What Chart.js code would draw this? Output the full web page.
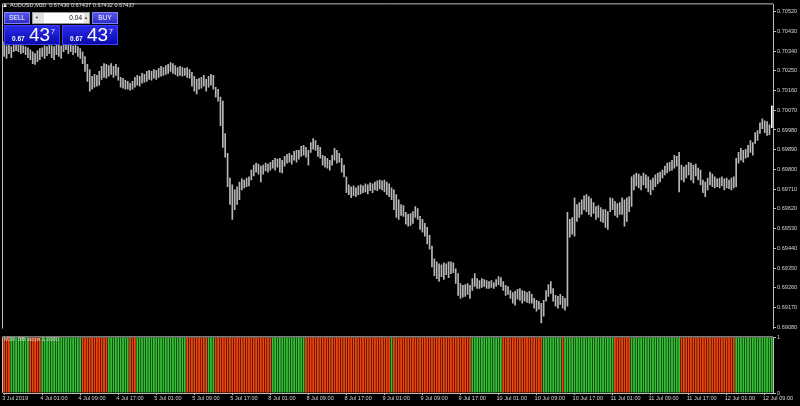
<!DOCTYPE html>
<html>
<head>
<meta charset="utf-8">
<script src="https://cdn.jsdelivr.net/npm/chart.js@4.4.1/dist/chart.umd.min.js"></script>
<style>
html,body{margin:0;padding:0;background:#000;}
#wrap{position:relative;width:800px;height:406px;overflow:hidden;background:#000;font-family:"Liberation Sans",Arial,sans-serif;}
canvas{position:absolute;left:0;display:block;}
#priceCanvas{top:0;}
#indCanvas{top:333px;}
.hdr{position:absolute;left:3px;top:1px;color:#e0e0e0;font-size:5.6px;line-height:8px;white-space:nowrap;}
.tri{display:inline-block;width:0;height:0;border-left:2.5px solid transparent;border-right:2.5px solid transparent;border-bottom:4px solid #e0e0e0;margin-right:3px;}
.btn{position:absolute;top:12px;height:12px;width:26px;box-sizing:border-box;background:linear-gradient(#5656ec,#2c2cc8);border:1px solid #8080f6;color:#fff;font-size:6.5px;line-height:10px;text-align:center;}
.vol{position:absolute;left:32px;top:12px;width:58px;height:12px;box-sizing:border-box;background:#e2e2e2;border:1px solid #9a9a9a;}
.vol .field{position:absolute;left:11px;top:0;width:40px;height:10px;background:#fff;color:#000;font-size:6.5px;line-height:10px;text-align:right;padding-right:2px;box-sizing:border-box;}
.vol .dn,.vol .up{position:absolute;top:0;font-size:4px;line-height:10px;color:#333;}
.vol .dn{left:2px;}
.vol .up{right:1px;}
.px{position:absolute;top:25px;width:56px;height:20px;box-sizing:border-box;background:linear-gradient(#2b2be8,#0a0aae);border:1px solid #4040ff;color:#fff;}
.px .s{position:absolute;left:7px;top:8.5px;font-size:6.5px;font-weight:bold;line-height:8px;}
.px .b{position:absolute;left:24px;top:-1px;font-size:19px;line-height:20px;}
.px .e{position:absolute;left:46px;top:1.5px;font-size:7px;line-height:8px;}
.indlbl{position:absolute;left:4px;top:336px;color:#d8d8d8;font-size:5.6px;line-height:7px;white-space:nowrap;}
</style>
</head>
<body>
<div id="wrap">
<canvas id="priceCanvas" width="800" height="333"></canvas>
<canvas id="indCanvas" width="800" height="73"></canvas>
<div class="hdr"><span class="tri"></span>AUDUSD,M30&nbsp; 0.67436 0.67437 0.67432 0.67437</div>
<div class="btn" style="left:4px;">SELL</div>
<div class="vol"><span class="dn">&#9660;</span><div class="field">0.04</div><span class="up">&#9650;</span></div>
<div class="btn" style="left:92px;">BUY</div>
<div class="px" style="left:4px;"><span class="s">0.67</span><span class="b">43</span><span class="e">7</span></div>
<div class="px" style="left:62px;"><span class="s">0.67</span><span class="b">43</span><span class="e">7</span></div>
<div class="indlbl">M30&nbsp; BB stops 1.0000</div>
</div>
<script>
// ---- data (AUDUSD M30, 3 Jul 17:00 -> 12 Jul 2019) ----
const highs = [
0.70382,0.70364,0.70373,0.70360,0.70373,0.70382,0.70378,0.70369,0.70364,0.70360,
0.70355,0.70346,0.70337,0.70328,0.70342,0.70351,0.70355,0.70364,0.70360,0.70369,
0.70364,0.70360,0.70373,0.70369,0.70364,0.70373,0.70378,0.70369,0.70373,0.70364,
0.70369,0.70360,0.70351,0.70337,0.70315,0.70279,0.70256,0.70225,0.70234,0.70229,
0.70247,0.70270,0.70283,0.70279,0.70274,0.70283,0.70270,0.70279,0.70265,0.70220,
0.70216,0.70207,0.70202,0.70193,0.70202,0.70220,0.70229,0.70225,0.70238,0.70234,
0.70247,0.70252,0.70247,0.70256,0.70252,0.70261,0.70270,0.70265,0.70274,0.70279,
0.70288,0.70283,0.70274,0.70265,0.70270,0.70265,0.70261,0.70265,0.70256,0.70243,
0.70225,0.70211,0.70216,0.70220,0.70229,0.70211,0.70225,0.70234,0.70229,0.70175,
0.70166,0.70130,0.70112,0.69964,0.69874,0.69761,0.69730,0.69707,0.69721,0.69743,
0.69757,0.69752,0.69761,0.69766,0.69797,0.69820,0.69829,0.69824,0.69815,0.69820,
0.69829,0.69824,0.69833,0.69842,0.69851,0.69847,0.69851,0.69842,0.69860,0.69869,
0.69874,0.69865,0.69883,0.69887,0.69887,0.69905,0.69910,0.69901,0.69887,0.69923,
0.69941,0.69932,0.69910,0.69901,0.69865,0.69860,0.69851,0.69842,0.69865,0.69896,
0.69887,0.69874,0.69851,0.69820,0.69766,0.69730,0.69721,0.69725,0.69716,0.69725,
0.69730,0.69725,0.69734,0.69730,0.69739,0.69734,0.69743,0.69748,0.69752,0.69748,
0.69752,0.69743,0.69734,0.69716,0.69707,0.69685,0.69662,0.69640,0.69635,0.69604,
0.69595,0.69599,0.69608,0.69631,0.69622,0.69586,0.69572,0.69554,0.69536,0.69500,
0.69451,0.69392,0.69379,0.69370,0.69365,0.69374,0.69370,0.69379,0.69379,0.69374,
0.69347,0.69325,0.69280,0.69271,0.69275,0.69280,0.69271,0.69302,0.69325,0.69302,
0.69293,0.69302,0.69298,0.69293,0.69289,0.69293,0.69284,0.69298,0.69311,0.69307,
0.69289,0.69271,0.69266,0.69248,0.69239,0.69244,0.69253,0.69257,0.69248,0.69244,
0.69239,0.69244,0.69230,0.69212,0.69203,0.69199,0.69190,0.69203,0.69248,0.69275,
0.69289,0.69257,0.69226,0.69221,0.69230,0.69221,0.69212,0.69604,0.69572,0.69581,
0.69671,0.69640,0.69649,0.69662,0.69680,0.69685,0.69676,0.69667,0.69649,0.69631,
0.69635,0.69626,0.69617,0.69617,0.69608,0.69671,0.69667,0.69653,0.69644,0.69649,
0.69671,0.69662,0.69671,0.69676,0.69766,0.69775,0.69784,0.69779,0.69770,0.69784,
0.69775,0.69766,0.69752,0.69761,0.69775,0.69784,0.69788,0.69797,0.69815,0.69829,
0.69833,0.69842,0.69865,0.69860,0.69878,0.69820,0.69811,0.69820,0.69833,0.69829,
0.69820,0.69824,0.69806,0.69797,0.69752,0.69743,0.69761,0.69788,0.69779,0.69766,
0.69757,0.69761,0.69766,0.69757,0.69761,0.69752,0.69761,0.69766,0.69851,0.69878,
0.69896,0.69887,0.69892,0.69910,0.69932,0.69923,0.69968,0.69977,0.70013,0.70031,
0.70022,0.70018,0.70004,0.70090
];
const lows = [
0.70315,0.70306,0.70328,0.70310,0.70337,0.70342,0.70337,0.70328,0.70333,0.70324,
0.70310,0.70301,0.70283,0.70279,0.70292,0.70301,0.70315,0.70306,0.70319,0.70328,
0.70310,0.70301,0.70324,0.70315,0.70306,0.70337,0.70346,0.70328,0.70337,0.70324,
0.70333,0.70315,0.70306,0.70283,0.70247,0.70202,0.70157,0.70166,0.70175,0.70180,
0.70184,0.70211,0.70220,0.70216,0.70225,0.70234,0.70220,0.70229,0.70207,0.70175,
0.70171,0.70166,0.70166,0.70162,0.70166,0.70175,0.70184,0.70180,0.70193,0.70198,
0.70202,0.70211,0.70207,0.70216,0.70211,0.70220,0.70225,0.70229,0.70234,0.70238,
0.70247,0.70238,0.70234,0.70225,0.70229,0.70225,0.70229,0.70220,0.70216,0.70180,
0.70157,0.70144,0.70166,0.70171,0.70180,0.70157,0.70175,0.70184,0.70166,0.70130,
0.70112,0.70000,0.69901,0.69856,0.69721,0.69640,0.69572,0.69617,0.69640,0.69662,
0.69707,0.69716,0.69721,0.69725,0.69752,0.69770,0.69788,0.69779,0.69743,0.69779,
0.69793,0.69788,0.69797,0.69806,0.69797,0.69811,0.69788,0.69784,0.69815,0.69829,
0.69833,0.69824,0.69842,0.69833,0.69847,0.69860,0.69865,0.69856,0.69820,0.69878,
0.69892,0.69887,0.69860,0.69851,0.69820,0.69811,0.69806,0.69797,0.69820,0.69842,
0.69829,0.69833,0.69788,0.69766,0.69694,0.69685,0.69671,0.69680,0.69676,0.69685,
0.69689,0.69694,0.69698,0.69689,0.69703,0.69694,0.69707,0.69703,0.69712,0.69707,
0.69698,0.69685,0.69676,0.69662,0.69617,0.69581,0.69572,0.69590,0.69586,0.69550,
0.69541,0.69545,0.69554,0.69581,0.69572,0.69527,0.69514,0.69496,0.69460,0.69437,
0.69356,0.69316,0.69302,0.69289,0.69311,0.69298,0.69320,0.69307,0.69325,0.69329,
0.69280,0.69226,0.69212,0.69217,0.69221,0.69230,0.69212,0.69248,0.69266,0.69257,
0.69257,0.69262,0.69266,0.69257,0.69257,0.69262,0.69257,0.69266,0.69275,0.69266,
0.69248,0.69226,0.69230,0.69212,0.69190,0.69181,0.69208,0.69203,0.69190,0.69199,
0.69194,0.69190,0.69190,0.69167,0.69154,0.69163,0.69100,0.69131,0.69199,0.69221,
0.69235,0.69199,0.69176,0.69167,0.69185,0.69167,0.69158,0.69176,0.69491,0.69505,
0.69496,0.69563,0.69581,0.69595,0.69617,0.69608,0.69595,0.69586,0.69599,0.69572,
0.69581,0.69563,0.69559,0.69536,0.69527,0.69608,0.69617,0.69590,0.69581,0.69595,
0.69595,0.69541,0.69563,0.69608,0.69631,0.69707,0.69725,0.69716,0.69707,0.69730,
0.69716,0.69698,0.69685,0.69707,0.69721,0.69734,0.69743,0.69761,0.69775,0.69784,
0.69793,0.69797,0.69806,0.69815,0.69698,0.69752,0.69743,0.69761,0.69775,0.69752,
0.69739,0.69770,0.69752,0.69730,0.69694,0.69676,0.69707,0.69730,0.69721,0.69716,
0.69721,0.69716,0.69725,0.69707,0.69716,0.69712,0.69707,0.69716,0.69721,0.69829,
0.69842,0.69833,0.69851,0.69856,0.69878,0.69865,0.69919,0.69932,0.69964,0.69986,
0.69968,0.69955,0.69959,0.69991
];
// BB stops histogram state per bar: 1 = up (green), 0 = down (red)
const trendSegments = [
"000","11111 111","00000","11111 11111 11111 11","00000 00000 0","11111 1111","000",
"11111 11111 11111 11111 1","00000 0000","111","00000 00000 00000 00000 0000",
"11111 11111 1111","00000 00000 00000 00000 00000 00000 00000 0","1",
"00000 00000 00000 00000 00000 00000 000","11111 11111 111","00000 00000 00000 00",
"11111 111","0","11111 11111 11111 11111 1","00000 00","11111 11111 11111 11111 1",
"00000 00000 00000 00000 000","11111 11111 11111 1"
];
const tickLabels = ["3 Jul 2019","4 Jul 01:00","4 Jul 09:00","4 Jul 17:00","5 Jul 01:00","5 Jul 09:00",
"5 Jul 17:00","8 Jul 01:00","8 Jul 09:00","8 Jul 17:00","9 Jul 01:00","9 Jul 09:00","9 Jul 17:00",
"10 Jul 01:00","10 Jul 09:00","10 Jul 17:00","11 Jul 01:00","11 Jul 09:00","11 Jul 17:00",
"12 Jul 01:00","12 Jul 09:00"];
const priceTicks = [0.70520,0.70430,0.70340,0.70250,0.70160,0.70070,0.69980,0.69890,0.69800,
0.69710,0.69620,0.69530,0.69440,0.69350,0.69260,0.69170,0.69080];
const indicatorTicks = [1, 0];

// ---- build ----
const categories = highs.map((_, i) => i);
const rangeBars = highs.map((h, i) => [lows[i], h]);
const trend = trendSegments.join('').replace(/\s/g, '').split('').map(Number);
const upBars = categories.map(i => trend[i] === 1 ? 1 : null);
const downBars = categories.map(i => trend[i] === 1 ? null : 1);

const FG = '#d4d4d4', FRAME = '#bdbdbd';
const font = {family: '"Liberation Sans", Arial, sans-serif', size: 5.6};

const framePlugin = {
  id: 'frame',
  afterDraw(chart) {
    const {ctx, chartArea: a} = chart;
    ctx.save();
    ctx.strokeStyle = FRAME; ctx.lineWidth = 1;
    ctx.beginPath();
    ctx.moveTo(a.left - 0.5, a.top - 0.5); ctx.lineTo(a.right, a.top - 0.5);
    ctx.moveTo(a.left - 0.5, a.top - 0.5); ctx.lineTo(a.left - 0.5, a.bottom);
    ctx.stroke();
    ctx.restore();
  }
};

new Chart(document.getElementById('priceCanvas'), {
  type: 'bar',
  data: {labels: categories, datasets: [{
    data: rangeBars,
    backgroundColor: c => c.dataIndex === highs.length - 1 ? '#ffffff' : '#b8b8b8',
    barThickness: 1, borderWidth: 0
  }]},
  options: {
    responsive: false, animation: false, events: [],
    layout: {autoPadding: false, padding: {left: 3, top: 2, right: 0, bottom: 1}},
    plugins: {legend: {display: false}, tooltip: {enabled: false}},
    scales: {
      x: {display: false, offset: true},
      y: {
        position: 'right', min: 0.69074, max: 0.70553,
        afterFit(s) { s.width = 27; },
        afterBuildTicks(s) { s.ticks = priceTicks.map(v => ({value: v})); },
        grid: {drawOnChartArea: false, drawTicks: true, tickLength: 3, color: FRAME},
        border: {display: true, color: FRAME},
        ticks: {color: FG, font, padding: 1, autoSkip: false, callback: v => Number(v).toFixed(5)}
      }
    }
  },
  plugins: [framePlugin]
});

new Chart(document.getElementById('indCanvas'), {
  type: 'bar',
  data: {labels: categories, datasets: [
    {data: upBars, backgroundColor: '#34c234', grouped: false, categoryPercentage: 1, barPercentage: 0.76, borderWidth: 0},
    {data: downBars, backgroundColor: '#f2450c', grouped: false, categoryPercentage: 1, barPercentage: 0.76, borderWidth: 0}
  ]},
  options: {
    responsive: false, animation: false, events: [],
    layout: {autoPadding: false, padding: {left: 3, top: 1, right: 0, bottom: 0}},
    plugins: {legend: {display: false}, tooltip: {enabled: false}},
    scales: {
      x: {
        offset: true,
        afterFit(s) { s.height = 13; },
        grid: {offset: false, drawOnChartArea: false, drawTicks: true, tickLength: 2,
               color: c => (c.index % 16 === 0 ? FRAME : 'rgba(0,0,0,0)')},
        border: {display: true, color: FRAME},
        ticks: {autoSkip: false, maxRotation: 0, minRotation: 0, align: 'start', padding: 0, labelOffset: -2,
                color: FG, font, callback: (v, i) => (i % 16 === 0 ? tickLabels[i / 16] : '')}
      },
      y: {
        position: 'right', min: 0, max: 1,
        afterFit(s) { s.width = 27; },
        afterBuildTicks(s) { s.ticks = indicatorTicks.map(v => ({value: v})); },
        grid: {drawOnChartArea: false, drawTicks: true, tickLength: 3, color: FRAME},
        border: {display: true, color: FRAME},
        ticks: {color: FG, font, padding: 1, callback: v => String(v)}
      }
    }
  },
  plugins: [framePlugin]
});
</script>
</body>
</html>
